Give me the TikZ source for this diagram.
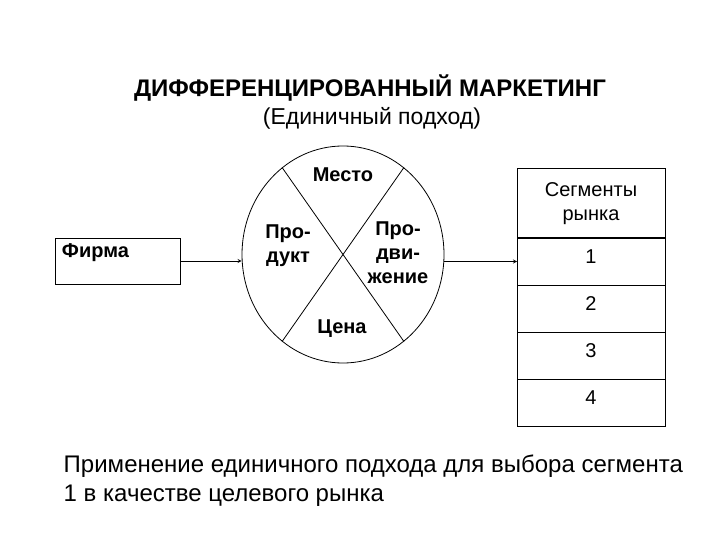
\documentclass[tikz,border=0pt]{standalone}
\usepackage{fontspec}
\setmainfont{Liberation Sans}
\usetikzlibrary{shapes.geometric, arrows, positioning}
\tikzstyle{firmbox} = [rectangle, minimum width=125bp, minimum height=46bp, draw=black]
\tikzstyle{mix} = [ellipse, minimum width=202bp, minimum height=217bp, draw=black]
\tikzstyle{part} = [font=\fontsize{20bp}{24bp}\selectfont\bfseries, align=center, inner sep=0pt]
\tikzstyle{head} = [rectangle, minimum width=148bp, minimum height=69bp, draw=black, line width=1bp, outer sep=0pt, align=center, font=\fontsize{20bp}{24bp}\selectfont]
\tikzstyle{cell} = [rectangle, minimum width=148bp, minimum height=47bp, draw=black, line width=1bp, outer sep=0pt, text height=14bp, text depth=10bp, font=\fontsize{20bp}{24bp}\selectfont]
\tikzstyle{arrow} = [->,>=stealth]

\begin{document}
\begin{tikzpicture}[x=1bp, y=-1bp, line width=0.8bp]
\useasboundingbox (0,0) rectangle (720,540);
\node (title) [font=\fontsize{24bp}{28bp}\selectfont\bfseries] at (370,88) {ДИФФЕРЕНЦИРОВАННЫЙ МАРКЕТИНГ};
\node (sub) [font=\fontsize{23bp}{27bp}\selectfont] at (372,118) {(Единичный подход)};

\node (firm) [firmbox] at (117.5,261) {};
\node (firmtxt) [anchor=north west, inner sep=0pt, font=\fontsize{20bp}{24bp}\selectfont\bfseries] at ([shift={(7,6)}]firm.north west) {Фирма};

% 4P circle
\node (mix) [mix] at (343,254.5) {};
\draw (mix.125) -- (mix.-55);
\draw (mix.55) -- (mix.235);
\node (place) [part] at (343,175) {Место};
\node (product) [part] at (288,246) {Про-\\дукт};
\node (promo) [part] at (398,253) {Про-\\дви-\\жение};
\node (price) [part] at (342,329) {Цена};

% segments
\node (head) [head] at (591,203.5) {Сегменты\\рынка};
\node (seg1) [cell, below=0pt of head] {1};
\node (seg2) [cell, below=0pt of seg1] {2};
\node (seg3) [cell, below=0pt of seg2] {3};
\node (seg4) [cell, below=0pt of seg3] {4};

\draw [arrow] (firm.east) -- (firm.east -| mix.west);
\draw [arrow] (mix.east |- seg1.west) -- (seg1.west);

\node (note) [anchor=west, align=left, font=\fontsize{24bp}{29bp}\selectfont] at (60,481) {Применение единичного подхода для выбора сегмента\\1 в качестве целевого рынка};
\end{tikzpicture}
\end{document}
